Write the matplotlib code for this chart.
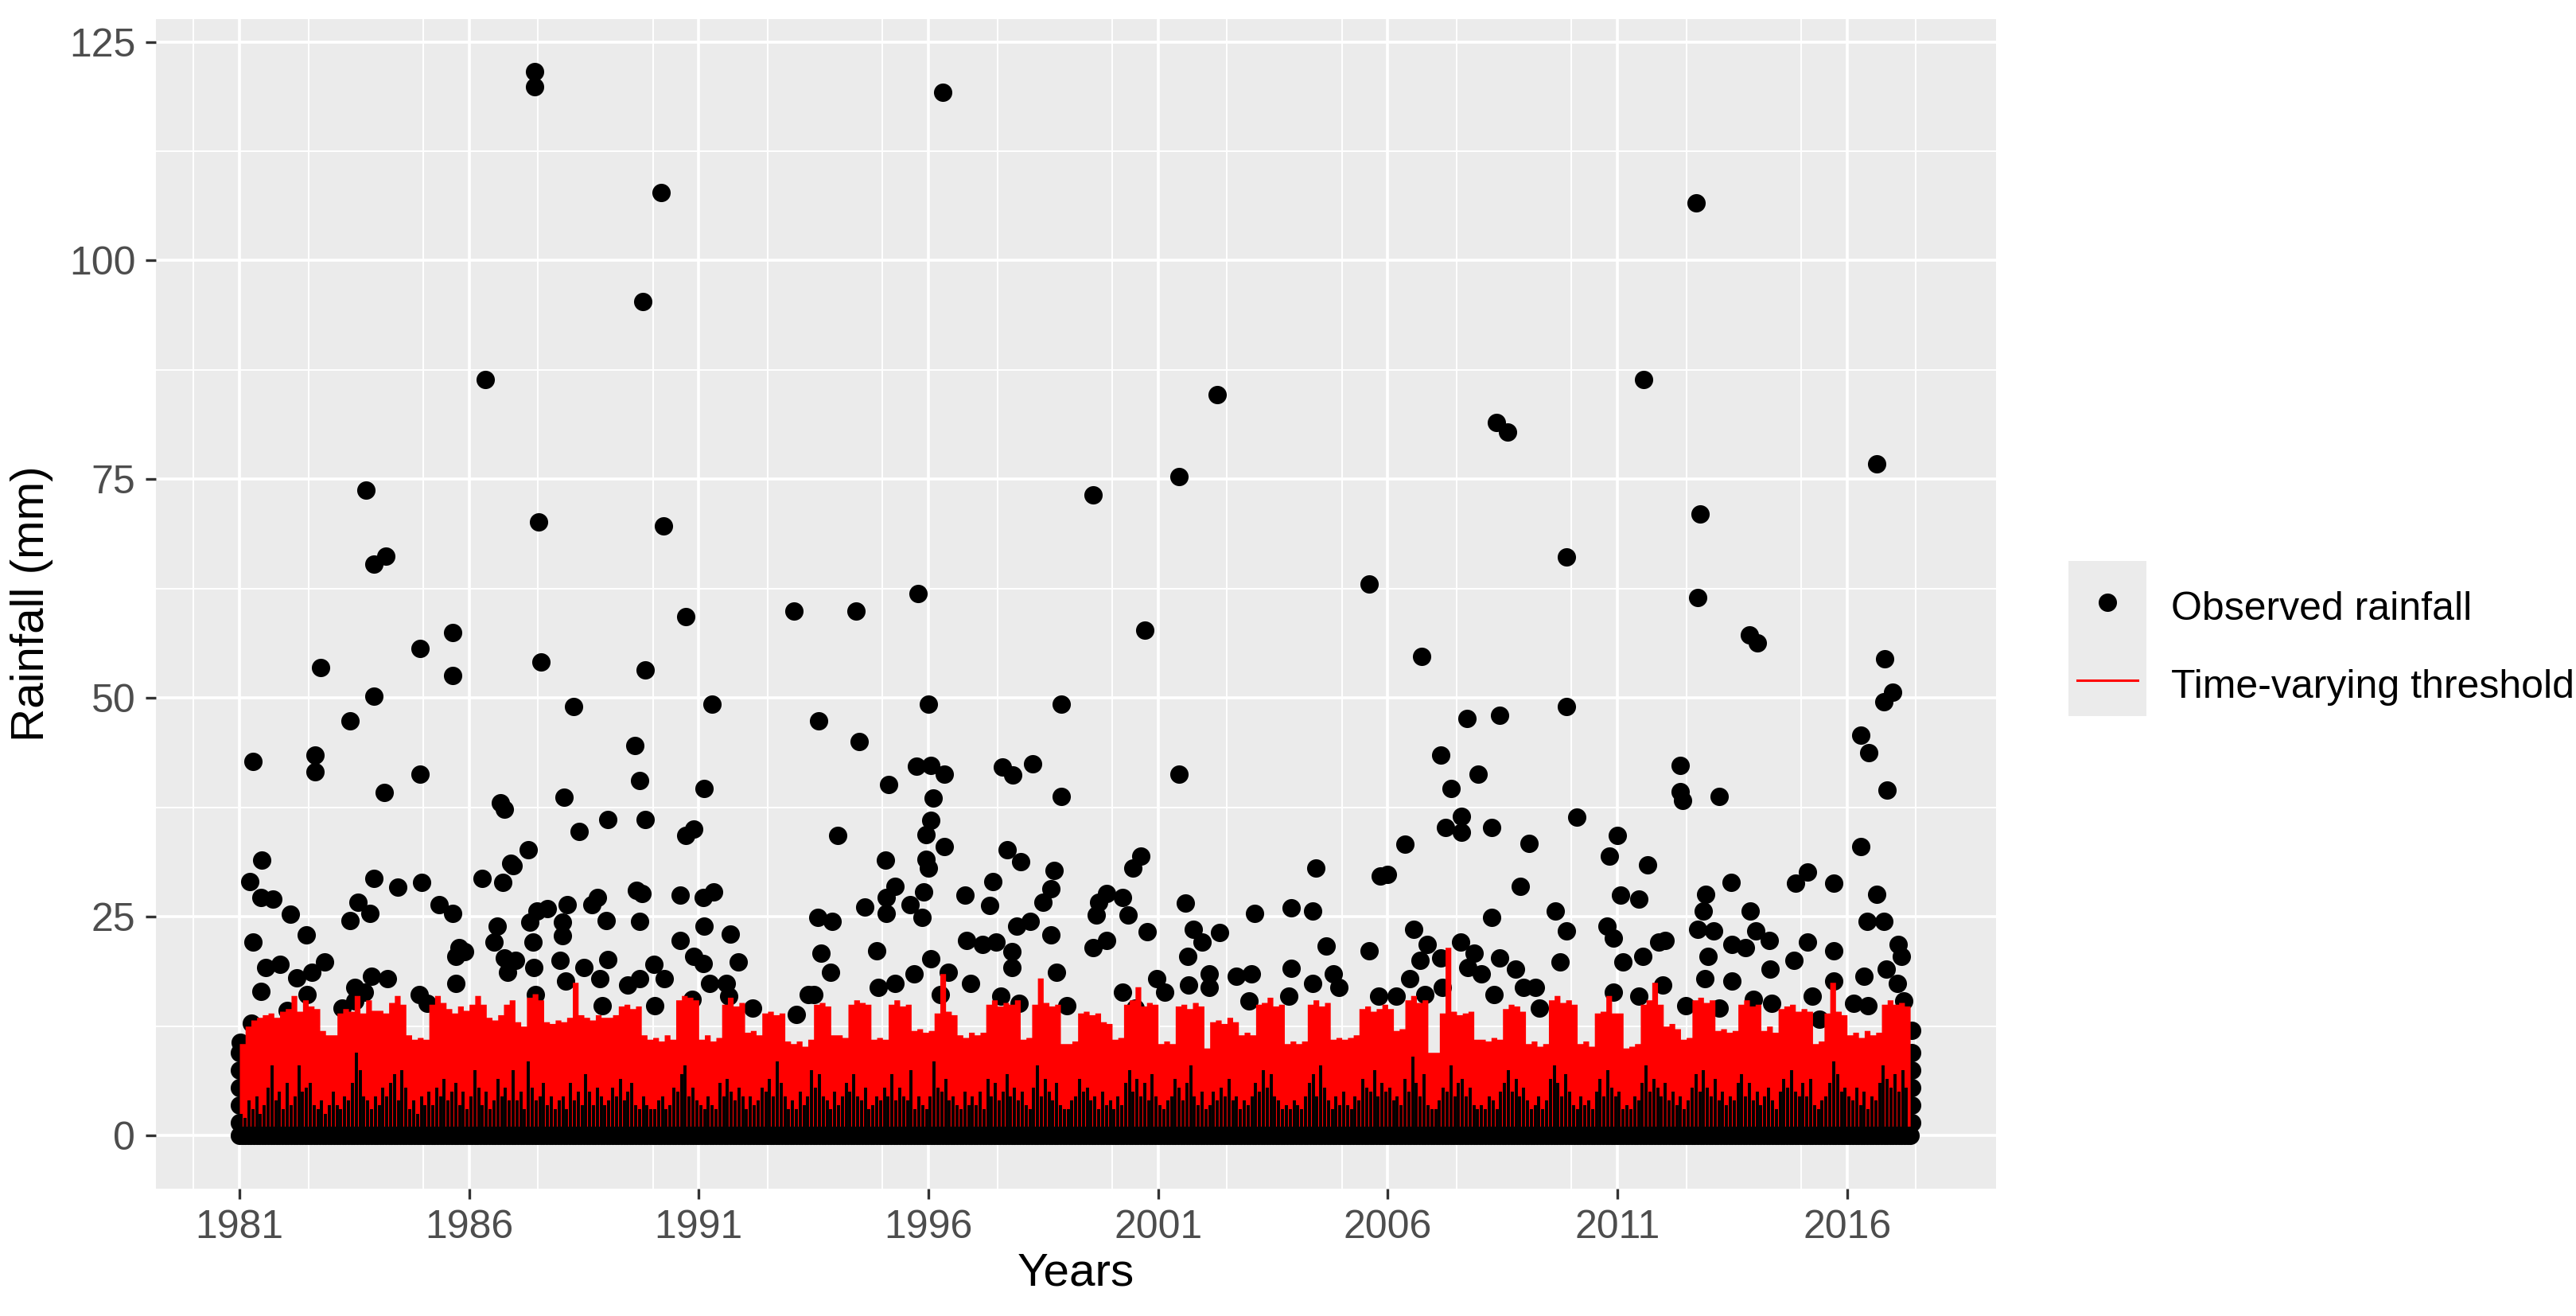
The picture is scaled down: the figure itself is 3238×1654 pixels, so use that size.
import numpy as np
import matplotlib.pyplot as plt
from matplotlib.ticker import MultipleLocator
from matplotlib.patches import Rectangle
from matplotlib.lines import Line2D

plt.rcParams['font.family'] = ['Liberation Sans', 'DejaVu Sans']

# observed daily rainfall that shows above the threshold band (decimal year, mm)
obs_1980s = [
    (1981.00, 1.5), (1981.00, 3.5), (1981.00, 5.5), (1981.00, 7.5), (1981.00, 9.5), (1981.02, 10.7),
    (1981.23, 29.0), (1981.26, 12.8), (1981.29, 42.8), (1981.29, 22.1), (1981.46, 27.2), (1981.46, 16.5),
    (1981.49, 31.5), (1981.58, 19.2), (1981.72, 27.0), (1981.89, 19.6),
    (1982.04, 14.3), (1982.11, 25.3), (1982.25, 18.0), (1982.46, 22.9), (1982.48, 16.1), (1982.58, 18.7),
    (1982.64, 43.5), (1982.64, 41.6), (1982.76, 53.5), (1982.86, 19.8),
    (1983.23, 14.6), (1983.41, 47.4), (1983.41, 24.6), (1983.52, 15.4), (1983.52, 16.9), (1983.58, 26.7),
    (1983.72, 16.4), (1983.75, 73.8), (1983.84, 25.4), (1983.87, 18.2), (1983.93, 65.3), (1983.93, 50.2),
    (1983.93, 29.4),
    (1984.16, 39.2), (1984.19, 66.2), (1984.22, 17.9), (1984.45, 28.4), (1984.91, 16.1), (1984.93, 55.7),
    (1984.93, 41.3), (1984.96, 28.9),
    (1985.09, 15.1), (1985.35, 26.4), (1985.64, 57.5), (1985.64, 52.6), (1985.64, 25.4), (1985.72, 20.5),
    (1985.72, 17.4), (1985.78, 21.5), (1985.90, 21.0),
    (1986.28, 29.4), (1986.36, 86.4), (1986.54, 22.1), (1986.62, 23.9), (1986.68, 38.0), (1986.74, 28.9),
    (1986.77, 37.3), (1986.77, 20.3), (1986.83, 18.7), (1986.91, 31.1), (1986.95, 30.8),
    (1987.01, 20.0), (1987.28, 32.7), (1987.32, 24.4), (1987.40, 22.1), (1987.41, 19.2), (1987.43, 121.6),
    (1987.43, 119.9), (1987.44, 16.1), (1987.47, 25.7), (1987.51, 70.1), (1987.57, 54.1), (1987.70, 25.9),
    (1987.98, 20.0),
    (1988.04, 24.4), (1988.04, 22.8), (1988.07, 38.7), (1988.10, 17.7), (1988.13, 26.4), (1988.27, 49.0),
    (1988.39, 34.8), (1988.50, 19.2), (1988.67, 26.4), (1988.79, 27.2), (1988.84, 17.9), (1988.90, 14.8),
    (1988.99, 24.6),
    (1989.02, 36.1), (1989.02, 20.1), (1989.45, 17.2), (1989.61, 44.6), (1989.65, 28.0), (1989.71, 17.9),
    (1989.72, 40.6), (1989.72, 24.5), (1989.76, 27.7), (1989.79, 95.3), (1989.83, 53.2), (1989.83, 36.1),
]
obs_1990s = [
    (1990.02, 19.6), (1990.05, 14.8), (1990.18, 107.8), (1990.24, 69.7), (1990.25, 17.9), (1990.60, 27.5),
    (1990.60, 22.3), (1990.71, 59.3), (1990.71, 34.3), (1990.86, 15.6), (1990.89, 35.0), (1990.89, 20.5),
    (1991.09, 27.2), (1991.09, 19.7), (1991.11, 39.7), (1991.11, 23.9), (1991.23, 17.4), (1991.29, 49.3),
    (1991.32, 27.8), (1991.60, 17.4), (1991.66, 15.9), (1991.69, 23.0), (1991.86, 19.8),
    (1992.18, 14.6),
    (1993.07, 59.9), (1993.13, 13.8), (1993.39, 16.1), (1993.50, 16.1), (1993.59, 24.9), (1993.61, 47.4),
    (1993.67, 20.8), (1993.87, 18.7), (1993.90, 24.5),
    (1994.02, 34.3), (1994.43, 59.9), (1994.49, 45.0), (1994.61, 26.1), (1994.88, 21.1), (1994.91, 16.9),
    (1995.07, 31.5), (1995.08, 27.2), (1995.08, 25.4), (1995.13, 40.1), (1995.28, 28.5), (1995.28, 17.4),
    (1995.60, 26.4), (1995.68, 18.5), (1995.74, 42.2), (1995.77, 61.9), (1995.86, 24.9), (1995.89, 27.8),
    (1995.94, 34.4), (1995.94, 31.6),
    (1996.00, 49.3), (1996.00, 30.6), (1996.06, 42.3), (1996.06, 36.0), (1996.06, 20.2), (1996.11, 38.6),
    (1996.26, 16.1), (1996.32, 119.2), (1996.34, 41.3), (1996.34, 33.0), (1996.43, 18.7), (1996.80, 27.5),
    (1996.83, 22.3), (1996.92, 17.4),
    (1997.18, 21.8), (1997.34, 26.3), (1997.40, 29.0), (1997.47, 22.1), (1997.58, 15.9), (1997.61, 42.1),
    (1997.72, 32.7), (1997.81, 21.0), (1997.81, 19.2), (1997.84, 41.2), (1997.93, 23.9), (1997.98, 15.1),
    (1998.01, 31.3), (1998.21, 24.5), (1998.27, 42.5), (1998.50, 26.7), (1998.67, 28.2), (1998.67, 22.9),
    (1998.73, 30.3), (1998.79, 18.7), (1998.90, 49.3), (1998.90, 38.8),
    (1999.02, 14.8), (1999.58, 73.2), (1999.59, 21.5), (1999.65, 25.2), (1999.70, 26.7), (1999.88, 27.7),
    (1999.88, 22.3),
]
obs_2000s = [
    (2000.22, 27.2), (2000.22, 16.4), (2000.34, 25.2), (2000.45, 30.6), (2000.51, 14.6), (2000.63, 31.9),
    (2000.71, 57.8), (2000.77, 23.3), (2000.97, 17.9),
    (2001.14, 16.4), (2001.46, 75.3), (2001.46, 41.3), (2001.59, 26.6), (2001.64, 20.5), (2001.66, 17.2),
    (2001.76, 23.6), (2001.95, 22.1),
    (2002.12, 18.5), (2002.12, 16.9), (2002.29, 84.7), (2002.34, 23.2), (2002.70, 18.2), (2002.98, 15.4),
    (2003.04, 18.5), (2003.10, 25.4), (2003.84, 15.9), (2003.90, 26.0), (2003.90, 19.1),
    (2004.36, 17.4), (2004.37, 25.7), (2004.43, 30.6), (2004.66, 21.7), (2004.82, 18.5), (2004.94, 16.9),
    (2005.60, 63.0), (2005.60, 21.1), (2005.80, 15.9), (2005.83, 29.7),
    (2006.00, 29.8), (2006.18, 15.9), (2006.38, 33.3), (2006.47, 17.9), (2006.56, 23.6), (2006.70, 20.0),
    (2006.74, 54.8), (2006.81, 16.1), (2006.86, 21.8),
    (2007.15, 43.5), (2007.16, 20.3), (2007.19, 16.9), (2007.25, 35.2), (2007.38, 39.7), (2007.59, 22.1),
    (2007.61, 36.5), (2007.61, 34.7), (2007.72, 47.7), (2007.74, 19.2), (2007.88, 20.8), (2007.97, 41.3),
    (2008.03, 18.5), (2008.26, 35.2), (2008.26, 24.9), (2008.31, 16.1), (2008.36, 81.5), (2008.43, 48.0),
    (2008.43, 20.3), (2008.61, 80.4), (2008.78, 19.0), (2008.89, 28.5), (2008.95, 16.9),
    (2009.08, 33.4), (2009.21, 16.9), (2009.30, 14.6), (2009.64, 25.7), (2009.76, 19.8), (2009.89, 66.1),
    (2009.89, 49.0), (2009.89, 23.4),
]
obs_2010s = [
    (2010.12, 36.4), (2010.77, 23.9), (2010.83, 31.9), (2010.92, 22.6), (2010.92, 16.4),
    (2011.00, 34.3), (2011.06, 27.5), (2011.12, 19.8), (2011.47, 27.0), (2011.47, 15.9), (2011.55, 20.5),
    (2011.57, 86.4), (2011.65, 30.9), (2011.90, 22.1), (2011.99, 17.2),
    (2012.04, 22.3), (2012.36, 42.3), (2012.36, 39.3), (2012.42, 38.3), (2012.48, 14.8), (2012.71, 106.6),
    (2012.75, 61.5), (2012.75, 23.6), (2012.80, 71.0), (2012.87, 25.7), (2012.90, 17.9), (2012.93, 27.6),
    (2012.98, 20.5),
    (2013.10, 23.4), (2013.21, 38.8), (2013.21, 14.6), (2013.47, 28.9), (2013.50, 21.8), (2013.50, 17.7),
    (2013.79, 21.5), (2013.87, 57.2), (2013.90, 25.7), (2013.96, 15.6),
    (2014.02, 23.4), (2014.05, 56.3), (2014.30, 22.3), (2014.32, 19.0), (2014.36, 15.1), (2014.84, 20.0),
    (2014.88, 28.8),
    (2015.13, 22.1), (2015.14, 30.1), (2015.25, 15.9), (2015.40, 13.3), (2015.71, 28.8), (2015.71, 21.1),
    (2015.71, 17.7),
    (2016.14, 15.1), (2016.30, 45.8), (2016.30, 33.0), (2016.37, 18.2), (2016.43, 24.5), (2016.46, 14.8),
    (2016.47, 43.8), (2016.64, 76.8), (2016.64, 27.6), (2016.80, 49.6), (2016.80, 24.5), (2016.82, 54.5),
    (2016.86, 19.0), (2016.87, 39.5),
    (2017.00, 50.7), (2017.09, 17.4), (2017.12, 21.8), (2017.18, 20.5), (2017.24, 15.4), (2017.40, 1.5),
    (2017.40, 3.5), (2017.40, 5.5), (2017.40, 7.5), (2017.40, 9.5), (2017.41, 12.0),
]

# time-varying threshold, upper envelope, 8 readings per year (mm)
thr_top = [
    [10.5, 12.5, 13.2, 13.5, 13.8, 14.0, 13.5, 14.2],  # 1981
    [14.5, 16.0, 14.2, 15.5, 14.8, 14.5, 12.0, 11.5],
    [11.5, 14.0, 14.5, 14.2, 16.0, 14.0, 15.5, 14.3],
    [14.3, 14.0, 15.2, 16.0, 15.0, 11.5, 11.0, 11.2],
    [11.0, 15.0, 16.0, 15.2, 14.5, 14.0, 14.8, 14.3],
    [15.0, 16.0, 15.0, 13.5, 13.2, 13.8, 15.0, 15.5],  # 1986
    [13.0, 12.5, 15.8, 16.2, 15.5, 13.0, 12.8, 13.2],
    [13.0, 13.5, 17.5, 13.8, 13.5, 13.2, 13.8, 13.5],
    [13.5, 13.8, 14.8, 15.0, 14.5, 14.8, 11.5, 11.0],
    [11.2, 10.8, 11.5, 11.0, 15.5, 16.0, 15.8, 15.5],
    [11.0, 11.5, 10.8, 11.2, 15.0, 15.8, 14.8, 15.2],  # 1991
    [11.8, 12.0, 11.5, 14.0, 14.2, 13.8, 14.0, 10.8],
    [10.5, 10.8, 10.2, 11.0, 15.0, 15.2, 14.8, 11.5],
    [11.5, 11.2, 15.0, 15.5, 15.2, 15.0, 11.0, 11.2],
    [11.0, 15.0, 15.5, 14.8, 15.0, 12.0, 12.2, 11.8],
    [12.0, 14.0, 18.5, 14.2, 13.8, 11.5, 11.2, 11.8],  # 1996
    [11.5, 11.8, 15.0, 15.5, 14.8, 15.2, 15.0, 15.5],
    [11.0, 11.2, 15.0, 18.0, 15.2, 14.8, 15.0, 10.5],
    [10.5, 10.8, 14.0, 14.2, 13.8, 14.0, 13.0, 12.8],
    [11.0, 11.2, 15.0, 15.5, 17.0, 14.8, 15.2, 15.0],
    [10.5, 10.8, 10.5, 14.8, 15.0, 14.5, 15.2, 14.8],  # 2001
    [10.0, 13.0, 13.2, 12.8, 13.5, 13.0, 11.5, 11.8],
    [11.5, 15.0, 15.2, 15.8, 14.8, 15.0, 10.5, 10.8],
    [10.5, 10.8, 15.0, 15.5, 14.8, 15.2, 11.0, 11.2],
    [11.0, 11.2, 11.5, 14.5, 14.8, 14.2, 14.5, 15.0],
    [14.5, 12.0, 12.2, 15.5, 16.0, 15.2, 15.5, 9.5],   # 2006
    [9.5, 14.0, 21.5, 14.2, 13.8, 14.0, 14.2, 11.0],
    [11.0, 10.8, 11.2, 11.0, 14.5, 15.0, 14.8, 14.2],
    [10.5, 10.8, 10.2, 10.5, 15.5, 16.0, 15.2, 15.5],
    [15.0, 10.5, 10.8, 10.2, 14.0, 14.2, 16.0, 14.0],
    [14.0, 10.0, 10.2, 10.5, 15.0, 15.5, 17.5, 15.0],  # 2011
    [12.5, 12.8, 12.2, 11.0, 11.2, 15.5, 15.8, 15.2],
    [15.5, 12.0, 12.2, 11.8, 12.0, 15.0, 15.5, 14.8],
    [15.0, 12.0, 12.5, 11.8, 14.5, 14.8, 15.0, 14.2],
    [14.5, 14.2, 10.5, 10.8, 14.0, 17.5, 14.2, 13.8],
    [11.5, 11.8, 11.2, 12.0, 11.5, 11.8, 15.0, 15.5],  # 2016
    [15.0, 15.2, 14.8],
]

# observed rainfall below the threshold, 12 readings per year (mm)
obs_low = [
    [2.5, 2.0, 4.0, 3.0, 4.5, 2.5, 3.5, 5.5, 8.0, 4.0, 5.0, 3.0],  # 1981
    [6.0, 3.5, 4.5, 8.0, 5.0, 5.5, 6.0, 3.5, 3.0, 4.0, 2.5, 3.5],
    [5.0, 3.5, 3.0, 4.5, 4.0, 6.0, 9.5, 7.5, 4.5, 4.0, 3.0, 4.5],
    [3.5, 5.5, 4.5, 6.0, 7.0, 4.0, 7.5, 5.5, 3.0, 4.0, 2.5, 4.5],
    [3.5, 5.0, 3.5, 5.5, 4.5, 6.5, 4.0, 5.0, 6.0, 3.5, 5.0, 3.0],
    [4.5, 7.5, 5.5, 3.5, 5.0, 3.0, 4.0, 6.5, 4.5, 5.5, 4.0, 7.5],  # 1986
    [4.0, 5.0, 3.0, 8.5, 5.5, 4.0, 4.5, 6.0, 3.5, 4.5, 3.0, 4.0],
    [4.5, 3.0, 6.0, 4.0, 5.0, 3.5, 7.0, 5.0, 3.5, 5.5, 4.5, 3.5],
    [4.0, 5.5, 4.5, 6.5, 4.0, 5.0, 6.0, 3.5, 3.0, 4.5, 3.5, 3.0],
    [3.0, 4.0, 4.5, 3.0, 3.5, 5.5, 5.0, 7.0, 8.0, 4.5, 5.5, 4.0],
    [3.5, 3.0, 4.5, 3.5, 3.0, 6.0, 4.5, 6.5, 5.0, 4.0, 5.5, 4.5],  # 1991
    [3.0, 4.5, 3.5, 4.0, 5.5, 5.0, 6.5, 4.5, 8.5, 6.0, 4.5, 3.0],
    [4.0, 3.0, 5.0, 3.5, 4.5, 7.5, 5.5, 7.0, 4.5, 4.0, 3.0, 5.0],
    [3.5, 4.5, 6.0, 5.0, 7.0, 4.5, 4.0, 5.5, 3.0, 3.5, 4.5, 4.0],
    [5.5, 4.5, 7.0, 4.0, 5.5, 4.5, 4.0, 7.5, 3.0, 4.5, 3.5, 3.0],
    [4.5, 8.5, 5.5, 5.0, 6.5, 4.0, 4.5, 3.5, 3.0, 5.0, 3.5, 4.5],  # 1996
    [3.5, 5.0, 3.0, 6.5, 4.5, 6.0, 4.0, 5.0, 7.0, 4.5, 5.5, 4.0],
    [5.0, 3.5, 3.0, 5.5, 8.0, 4.5, 6.5, 5.0, 4.0, 6.0, 3.5, 3.0],
    [3.0, 4.0, 4.5, 6.5, 5.0, 5.5, 4.0, 4.5, 3.0, 5.0, 3.5, 4.0],
    [3.0, 4.5, 3.5, 6.0, 7.5, 5.0, 6.5, 4.5, 6.0, 4.0, 7.0, 4.5],
    [3.5, 3.0, 4.0, 4.5, 6.5, 5.5, 4.0, 6.0, 8.0, 4.5, 3.5, 5.0],  # 2001
    [3.0, 3.5, 5.0, 4.0, 5.5, 4.5, 6.5, 4.0, 4.5, 3.0, 4.0, 3.5],
    [4.5, 6.0, 5.0, 7.5, 5.5, 7.0, 4.5, 4.0, 3.0, 3.5, 3.0, 4.0],
    [3.5, 3.0, 4.5, 6.0, 7.0, 4.5, 8.0, 5.5, 4.0, 3.0, 4.5, 3.5],
    [5.0, 3.5, 3.0, 4.5, 4.0, 6.5, 5.5, 5.0, 7.5, 4.5, 6.0, 5.0],
    [5.5, 4.0, 4.5, 3.5, 6.5, 5.0, 9.0, 6.0, 4.5, 7.0, 3.5, 3.0],  # 2006
    [3.0, 4.0, 5.5, 5.0, 8.0, 4.5, 6.0, 6.5, 4.5, 5.5, 3.5, 3.0],
    [3.5, 3.0, 4.5, 4.0, 3.0, 5.0, 6.0, 7.5, 5.0, 6.5, 4.5, 5.5],
    [4.0, 3.0, 3.5, 4.5, 3.0, 4.0, 6.5, 8.0, 6.0, 4.5, 7.0, 5.0],
    [3.5, 3.0, 4.5, 3.5, 4.0, 3.0, 5.0, 6.5, 4.5, 7.5, 5.5, 4.5],
    [5.0, 3.0, 3.5, 3.0, 4.5, 4.0, 6.0, 8.0, 5.0, 6.5, 5.5, 4.5],  # 2011
    [6.0, 4.0, 5.0, 3.5, 4.5, 3.0, 4.0, 5.5, 7.0, 5.0, 7.5, 5.5],
    [4.5, 6.5, 4.0, 5.0, 3.5, 4.5, 4.0, 6.0, 7.0, 4.5, 6.0, 4.0],
    [5.0, 3.5, 4.5, 5.5, 4.0, 3.0, 5.0, 6.5, 5.5, 7.5, 5.0, 4.5],
    [6.0, 4.5, 6.5, 3.5, 3.0, 4.0, 4.5, 6.0, 8.5, 7.0, 5.0, 5.5],
    [4.5, 4.0, 5.5, 3.5, 5.0, 3.0, 4.5, 4.0, 6.0, 8.0, 6.5, 5.5],  # 2016
    [7.0, 5.0, 7.5, 5.5],
]

start_year = 1981.0
last_day = 2017.41

obs = obs_1980s + obs_1990s + obs_2000s + obs_2010s
obs_year = np.array([p[0] for p in obs])
obs_mm = np.array([p[1] for p in obs])

thr = np.concatenate([np.array(r) for r in thr_top])
thr_x = start_year + np.arange(len(thr) + 1) / 8.0
low = np.concatenate([np.array(r) for r in obs_low])
low_x = start_year + (np.arange(len(low)) + 0.5) / 12.0
dry_x = np.arange(start_year, last_day, 1 / 16.0)
dry_mm = np.zeros(len(dry_x))

fig = plt.figure(figsize=(16.19, 8.27), dpi=200)
ax = fig.add_axes([0.0605, 0.0967, 0.7143, 0.8888])
ax.set_facecolor('#EBEBEB')
for s in ax.spines.values():
    s.set_visible(False)

pt_size = 69
ax.scatter(obs_year, obs_mm, s=pt_size, color='black', linewidths=0, zorder=2)
ax.fill_between(thr_x, 0, np.append(thr, thr[-1]), step='post', color='#FF0000',
                linewidth=0, zorder=3)
ax.vlines(low_x, 0, low, color='black', linewidth=1.4, zorder=4)
ax.scatter(dry_x, dry_mm, s=pt_size, color='black', linewidths=0, zorder=4)

ax.set_xlim(1979.18, 2019.24)
ax.set_ylim(-6.08, 127.6)
ax.set_xticks(np.arange(1981, 2017, 5))
ax.set_yticks([0, 25, 50, 75, 100, 125])
ax.xaxis.set_minor_locator(MultipleLocator(2.5))
ax.yaxis.set_minor_locator(MultipleLocator(12.5))
ax.grid(which='major', color='white', linewidth=1.3, zorder=0)
ax.grid(which='minor', color='white', linewidth=0.7, zorder=0)
ax.set_axisbelow(True)
ax.tick_params(which='major', length=4.7, width=1.2, color='#333333',
               labelsize=18, labelcolor='#4D4D4D', pad=4.5)
ax.tick_params(which='minor', length=0)

ax.set_xlabel('Years', fontsize=21, labelpad=3)
ax.set_ylabel('Rainfall (mm)', fontsize=21, labelpad=7)

# legend drawn by hand to get the grey key boxes
fig.patches.append(Rectangle((0.803, 0.4559), 0.0303, 0.1179, transform=fig.transFigure,
                             facecolor='#EBEBEB', edgecolor='none'))
fig.lines.append(Line2D([0.8181], [0.5425], transform=fig.transFigure, marker='o',
                        markersize=8.3, color='black', markeredgewidth=0, linestyle='none'))
fig.lines.append(Line2D([0.8063, 0.8298], [0.4830, 0.4830], transform=fig.transFigure,
                        color='#FF0000', linewidth=1.1))
fig.text(0.8428, 0.529, 'Observed rainfall', fontsize=18, va='baseline')
fig.text(0.8428, 0.470, 'Time-varying threshold', fontsize=18, va='baseline')

fig.savefig('out.png', dpi=200)
